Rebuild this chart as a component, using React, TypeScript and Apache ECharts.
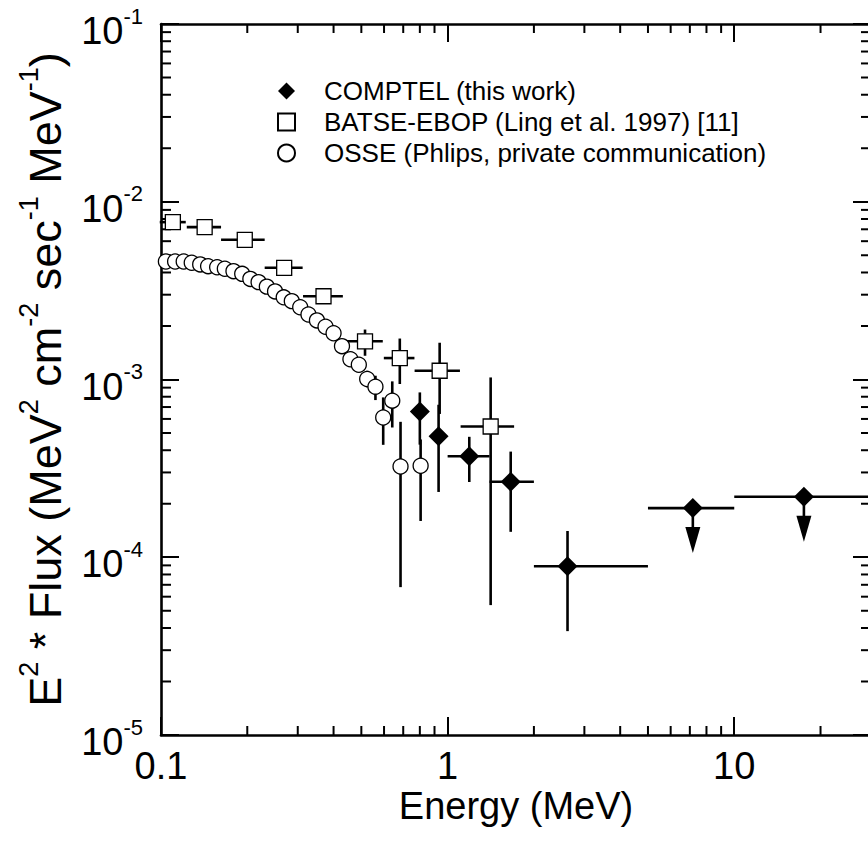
import React, { useEffect, useRef } from 'react';
import * as echarts from 'echarts';

const FONT = '"Liberation Sans", Arial, Helvetica, sans-serif';

// ---- COMPTEL (this work) ----
const comptelEnergy = [0.80, 0.93, 1.19, 1.66, 2.62, 7.17, 17.5];
const comptelFlux = [6.6e-4, 4.8e-4, 3.7e-4, 2.66e-4, 8.9e-5, 1.89e-4, 2.19e-4];
const comptelELo = [0.80, 0.93, 1.0, 1.4, 2.0, 5.0, 10];
const comptelEHi = [0.80, 0.93, 1.4, 2.0, 5.0, 10, 30];
const comptelFluxLo = [4.3e-4, 2.33e-4, 2.65e-4, 1.39e-4, 3.84e-5, null, null];
const comptelFluxHi = [8.46e-4, 7.21e-4, 4.76e-4, 3.93e-4, 1.405e-4, null, null];
const comptelUpperLimit = [false, false, false, false, false, true, true];

// ---- BATSE-EBOP ----
const batseEnergy = [0.110, 0.142, 0.196, 0.269, 0.369, 0.515, 0.681, 0.938, 1.413];
const batseFlux = [7.68e-3, 7.20e-3, 6.11e-3, 4.25e-3, 2.94e-3, 1.64e-3, 1.32e-3, 1.12e-3, 5.44e-4];
const batseELo = [0.099, 0.123, 0.162, 0.230, 0.313, 0.437, 0.599, 0.767, 1.11];
const batseEHi = [0.122, 0.162, 0.230, 0.312, 0.431, 0.594, 0.766, 1.104, 1.706];
const batseFluxLo = [null, null, null, null, null, 1.36e-3, 9.43e-4, 6.4e-4, 5.38e-5];
const batseFluxHi = [null, null, null, null, null, 1.91e-3, 1.70e-3, 1.61e-3, 1.027e-3];

// ---- OSSE ----
const osseEnergy = [0.104, 0.112, 0.120, 0.128, 0.137, 0.146, 0.157, 0.167, 0.179, 0.192,
  0.205, 0.219, 0.234, 0.250, 0.268, 0.286, 0.306, 0.327, 0.350, 0.375,
  0.400, 0.428, 0.458, 0.490, 0.524, 0.560, 0.596, 0.641, 0.685, 0.805];
const osseFlux = [4.61e-3, 4.61e-3, 4.61e-3, 4.54e-3, 4.44e-3, 4.34e-3, 4.28e-3, 4.20e-3, 4.07e-3, 3.93e-3,
  3.68e-3, 3.53e-3, 3.33e-3, 3.13e-3, 2.90e-3, 2.76e-3, 2.55e-3, 2.32e-3, 2.15e-3, 1.98e-3,
  1.82e-3, 1.54e-3, 1.30e-3, 1.21e-3, 1.006e-3, 9.11e-4, 6.11e-4, 7.60e-4, 3.24e-4, 3.27e-4];
const osseFluxLo = [null, null, null, null, null, null, null, null, null, null,
  null, null, null, null, null, null, null, null, null, null,
  null, null, null, null, 9.03e-4, 7.66e-4, 4.29e-4, 5.37e-4, 6.79e-5, 1.60e-4];
const osseFluxHi = [null, null, null, null, null, null, null, null, null, null,
  null, null, null, null, null, null, null, null, null, null,
  null, null, null, null, 1.12e-3, 1.05e-3, 7.93e-4, 9.76e-4, 5.78e-4, 4.6e-4];

// ---- axes ----
const xMin = 0.1;
const xMax = 30;
const yMin = 1e-5;
const yMax = 0.1;
const xTickLabels: Record<string, string> = { '-1': '0.1', '0': '1', '1': '10' };
const minorMultipliers = [2, 3, 4, 5, 6, 7, 8, 9];
const xDecades = [0.1, 1, 10];
const yDecades = [1e-5, 1e-4, 1e-3, 1e-2];

const legendNames = [
  'COMPTEL (this work)',
  'BATSE-EBOP (Ling et al. 1997) [11]',
  'OSSE (Phlips, private communication)',
];

const LW = 2.6;

function isDecade(v: number) {
  const e = Math.log10(v);
  return Math.abs(e - Math.round(e)) < 1e-6;
}

function errRenderer(src: any) {
  return (params: any, api: any) => {
    const i = params.dataIndex;
    const children: any[] = [];
    const x = src.x[i];
    const y = src.y[i];
    const c = api.coord([x, y]);
    const st = { stroke: '#000', lineWidth: LW };
    if (src.xlo && src.xlo[i] !== src.xhi[i]) {
      const a = api.coord([src.xlo[i], y]);
      const b = api.coord([src.xhi[i], y]);
      children.push({ type: 'line', shape: { x1: a[0], y1: a[1], x2: b[0], y2: b[1] }, style: st });
    }
    if (src.ylo && src.ylo[i] != null) {
      const a = api.coord([x, src.ylo[i]]);
      const b = api.coord([x, src.yhi[i]]);
      children.push({ type: 'line', shape: { x1: a[0], y1: a[1], x2: b[0], y2: b[1] }, style: st });
    }
    if (src.ul && src.ul[i]) {
      children.push({ type: 'line', shape: { x1: c[0], y1: c[1], x2: c[0], y2: c[1] + 21 }, style: st });
      children.push({
        type: 'polygon',
        shape: { points: [[c[0] - 7.5, c[1] + 19], [c[0] + 7.5, c[1] + 19], [c[0], c[1] + 45]] },
        style: { fill: '#000' },
      });
    }
    return { type: 'group', children };
  };
}

function minorTickRenderer(axis: 'x' | 'y') {
  return (params: any, api: any) => {
    const cs = params.coordSys;
    const p = api.coord([api.value(0), api.value(1)]);
    const st = { stroke: '#000', lineWidth: 2 };
    if (axis === 'x') {
      const yb = cs.y + cs.height;
      return {
        type: 'group',
        children: [
          { type: 'line', shape: { x1: p[0], y1: yb, x2: p[0], y2: yb - 9 }, style: st },
          { type: 'line', shape: { x1: p[0], y1: cs.y, x2: p[0], y2: cs.y + 9 }, style: st },
        ],
      };
    }
    const xr = cs.x + cs.width;
    return {
      type: 'group',
      children: [
        { type: 'line', shape: { x1: cs.x, y1: p[1], x2: cs.x + 10, y2: p[1] }, style: st },
        { type: 'line', shape: { x1: xr, y1: p[1], x2: xr - 10, y2: p[1] }, style: st },
      ],
    };
  };
}

export default function App() {
  const ref = useRef<HTMLDivElement>(null);

  useEffect(() => {
    if (!ref.current) return;
    const chart = echarts.init(ref.current, null, { renderer: 'svg' });

    const xMinor: number[][] = [];
    xDecades.forEach((d) => minorMultipliers.forEach((m) => { const v = d * m; if (v < xMax) xMinor.push([v, yMin]); }));
    const yMinor: number[][] = [];
    yDecades.forEach((d) => minorMultipliers.forEach((m) => yMinor.push([xMin, d * m])));

    const axisLineStyle = { color: '#000', width: 2.6 };
    const tickStyle = { color: '#000', width: 2 };

    const option: any = {
      animation: false,
      backgroundColor: '#fff',
      grid: { left: 161, top: 24, width: 710, height: 711, outerBoundsMode: 'none' },
      legend: {
        orient: 'vertical',
        left: 277,
        top: 78,
        padding: 0,
        itemWidth: 17,
        itemHeight: 17,
        itemGap: 5,
        selectedMode: false,
        textStyle: { fontSize: 26, lineHeight: 26, color: '#000', fontFamily: FONT, padding: [0, 0, 0, 24] },
        data: [
          { name: legendNames[0], icon: 'diamond' },
          { name: legendNames[1], icon: 'rect' },
          { name: legendNames[2], icon: 'circle' },
        ],
      },
      xAxis: [
        {
          type: 'log', logBase: 10, min: xMin, max: xMax, position: 'bottom',
          axisLine: { lineStyle: axisLineStyle },
          axisTick: { inside: true, length: 18, lineStyle: tickStyle },
          splitLine: { show: false },
          axisLabel: {
            fontSize: 38, lineHeight: 30, color: '#000', fontFamily: FONT, margin: 16,
            formatter: (v: number) => (isDecade(v) ? xTickLabels[String(Math.round(Math.log10(v)))] ?? '' : ''),
          },
          name: 'Energy (MeV)', nameLocation: 'middle', nameGap: 56, nameMoveOverlap: false,
          nameTextStyle: { fontSize: 38, lineHeight: 30, color: '#000', fontFamily: FONT },
        },
        {
          type: 'log', logBase: 10, min: xMin, max: xMax, position: 'top',
          axisLine: { lineStyle: axisLineStyle },
          axisTick: { inside: true, length: 18, lineStyle: tickStyle },
          splitLine: { show: false },
          axisLabel: { show: false },
        },
      ],
      yAxis: [
        {
          type: 'log', logBase: 10, min: yMin, max: yMax, position: 'left',
          axisLine: { lineStyle: axisLineStyle },
          axisTick: { inside: true, length: 18, lineStyle: tickStyle },
          splitLine: { show: false },
          axisLabel: {
            margin: 18, fontFamily: FONT, color: '#000',
            padding: [14, 0, 0, 0],
            formatter: (v: number) => `{b|10}{s|${Math.round(Math.log10(v))}}`,
            rich: {
              b: { fontSize: 38, lineHeight: 52, fontFamily: FONT, color: '#000' },
              s: { fontSize: 22, lineHeight: 22, verticalAlign: 'top', fontFamily: FONT, color: '#000' },
            },
          },
          name: '{b|E}{s|2}{b| * Flux (MeV}{s|2}{b| cm}{s|-2}{b| sec}{s|-1}{b| MeV}{s|-1}{b|)}',
          nameLocation: 'middle', nameGap: 86, nameMoveOverlap: false,
          nameTextStyle: {
            fontFamily: FONT, color: '#000', fontSize: 45,
            rich: {
              b: { fontSize: 45, lineHeight: 60, fontFamily: FONT, color: '#000' },
              s: { fontSize: 27, lineHeight: 27, verticalAlign: 'top', fontFamily: FONT, color: '#000' },
            },
          },
        },
        {
          type: 'log', logBase: 10, min: yMin, max: yMax, position: 'right',
          axisLine: { lineStyle: axisLineStyle },
          axisTick: { inside: true, length: 18, lineStyle: tickStyle },
          splitLine: { show: false },
          axisLabel: { show: false },
        },
      ],
      series: [
        {
          type: 'custom', name: 'minorX', silent: true, z: 3,
          renderItem: minorTickRenderer('x'), data: xMinor,
        },
        {
          type: 'custom', name: 'minorY', silent: true, z: 3,
          renderItem: minorTickRenderer('y'), data: yMinor,
        },
        {
          type: 'custom', name: 'osseErr', silent: true, z: 2,
          renderItem: errRenderer({ x: osseEnergy, y: osseFlux, ylo: osseFluxLo, yhi: osseFluxHi }),
          data: osseEnergy.map((e, i) => [e, osseFlux[i]]),
        },
        {
          type: 'custom', name: 'batseErr', silent: true, z: 2,
          renderItem: errRenderer({ x: batseEnergy, y: batseFlux, xlo: batseELo, xhi: batseEHi, ylo: batseFluxLo, yhi: batseFluxHi }),
          data: batseEnergy.map((e, i) => [e, batseFlux[i]]),
        },
        {
          type: 'custom', name: 'comptelErr', silent: true, z: 2,
          renderItem: errRenderer({ x: comptelEnergy, y: comptelFlux, xlo: comptelELo, xhi: comptelEHi, ylo: comptelFluxLo, yhi: comptelFluxHi, ul: comptelUpperLimit }),
          data: comptelEnergy.map((e, i) => [e, comptelFlux[i]]),
        },
        {
          type: 'scatter', name: legendNames[2], symbol: 'circle', symbolSize: 15, z: 4,
          itemStyle: { color: '#fff', borderColor: '#000', borderWidth: 1.3, opacity: 1 },
          data: osseEnergy.map((e, i) => [e, osseFlux[i]]),
        },
        {
          type: 'scatter', name: legendNames[1], symbol: 'rect', symbolSize: 15, z: 4,
          itemStyle: { color: '#fff', borderColor: '#000', borderWidth: 1.3, opacity: 1 },
          data: batseEnergy.map((e, i) => [e, batseFlux[i]]),
        },
        {
          type: 'scatter', name: legendNames[0], symbol: 'diamond', symbolSize: 20, z: 4,
          itemStyle: { color: '#000', borderColor: '#000', borderWidth: 0, opacity: 1 },
          data: comptelEnergy.map((e, i) => [e, comptelFlux[i]]),
        },
      ],
    };

    chart.setOption(option);
    return () => chart.dispose();
  }, []);

  return (
    <div
      ref={ref}
      style={{ position: 'fixed', left: 0, top: 0, width: 868, height: 852, background: '#fff' }}
    />
  );
}
